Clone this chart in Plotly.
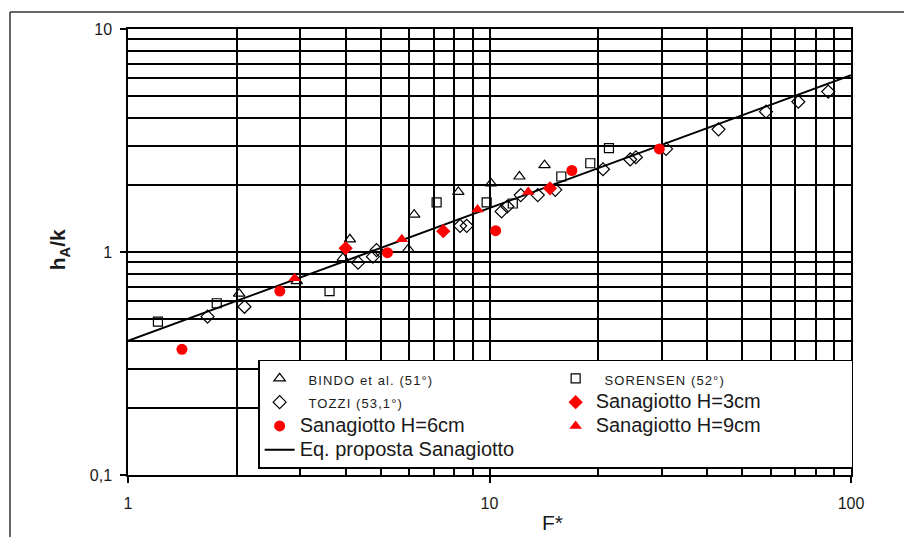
import plotly.graph_objects as go

# --- data -------------------------------------------------------------
bindo_x = [2.03, 2.93, 3.93, 4.11, 5.96, 6.19, 8.20, 10.1, 12.1, 14.2]
bindo_y = [0.65, 0.74, 0.94, 1.14, 1.03, 1.47, 1.86, 2.03, 2.18, 2.45]

sorensen_x = [1.21, 1.76, 3.61, 7.14, 9.82, 11.6, 15.8, 19.0, 21.4]
sorensen_y = [0.487, 0.589, 0.668, 1.67, 1.67, 1.65, 2.18, 2.50, 2.92]

tozzi_x = [1.66, 2.10, 4.33, 4.76, 4.87, 8.29, 8.65, 10.8, 11.2, 12.2,
           13.6, 15.2, 20.6, 24.5, 25.4, 30.8, 43.0, 58.2, 71.5, 86.5]
tozzi_y = [0.513, 0.568, 0.896, 0.953, 1.02, 1.31, 1.31, 1.52, 1.60, 1.80,
           1.80, 1.90, 2.35, 2.60, 2.66, 2.90, 3.55, 4.26, 4.72, 5.24]

h3_x = [4.0, 7.45, 14.7]
h3_y = [1.04, 1.24, 1.93]

h6_x = [1.41, 2.63, 5.22, 10.4, 16.9, 29.5]
h6_y = [0.366, 0.668, 0.993, 1.246, 2.32, 2.90]

h9_x = [2.89, 5.72, 9.27, 12.8]
h9_y = [0.762, 1.14, 1.55, 1.86]

eq_x = [1, 100]
eq_y = [0.40, 6.2]

x_tickvals = [1, 10, 100]
x_ticktext = ["1", "10", "100"]
y_tickvals = [0.1, 1, 10]
y_ticktext = ["0,1", "1", "10"]

FONT = "Liberation Sans, Arial, sans-serif"
SMALL = '<span style="font-size:13px;letter-spacing:1.1px">{}</span>'
BIG = '<span style="font-size:20px">{}</span>'

fig = go.Figure()

fig.add_trace(go.Scatter(
    x=eq_x, y=eq_y, mode="lines", name=BIG.format("Eq. proposta Sanagiotto"),
    line=dict(color="black", width=2), legendrank=7))

open_marker = dict(color="black", size=9, line=dict(color="black", width=1.2))
fig.add_trace(go.Scatter(
    x=bindo_x, y=bindo_y, mode="markers", name="  " + SMALL.format("BINDO et al. (51°)"),
    marker=dict(open_marker, symbol="triangle-up-open", size=10), legendrank=1))
fig.add_trace(go.Scatter(
    x=sorensen_x, y=sorensen_y, mode="markers", name="  " + SMALL.format("SORENSEN (52°)"),
    marker=dict(open_marker, symbol="square-open", size=9), legendrank=2))
fig.add_trace(go.Scatter(
    x=tozzi_x, y=tozzi_y, mode="markers", name="  " + SMALL.format("TOZZI (53,1°)"),
    marker=dict(open_marker, symbol="diamond-open", size=10), legendrank=3))

fig.add_trace(go.Scatter(
    x=h3_x, y=h3_y, mode="markers", name=BIG.format("Sanagiotto H=3cm"),
    marker=dict(color="#ff0000", symbol="diamond", size=11), legendrank=4))
fig.add_trace(go.Scatter(
    x=h6_x, y=h6_y, mode="markers", name=BIG.format("Sanagiotto H=6cm"),
    marker=dict(color="#ff0000", symbol="circle", size=11), legendrank=5))
fig.add_trace(go.Scatter(
    x=h9_x, y=h9_y, mode="markers", name=BIG.format("Sanagiotto H=9cm"),
    marker=dict(color="#ff0000", symbol="triangle-up", size=11), legendrank=6))

axis_common = dict(
    type="log",
    showgrid=True, gridcolor="black", gridwidth=1.5,
    showline=True, linecolor="black", linewidth=1.5, mirror=True,
    ticks="outside", ticklen=6, tickwidth=1.5, tickcolor="black",
    tickfont=dict(family=FONT, size=16, color="#1a1a1a"),
    minor=dict(dtick="D1", showgrid=True, gridcolor="black", gridwidth=1.5, ticks=""),
    zeroline=False,
)

fig.update_xaxes(axis_common, range=[0, 2], tickvals=x_tickvals, ticktext=x_ticktext,
                 ticklabelstandoff=7)
fig.update_yaxes(axis_common, range=[-1, 1], tickvals=y_tickvals, ticktext=y_ticktext,
                 ticklabelstandoff=5)

fig.update_layout(
    width=904, height=537,
    margin=dict(l=128, r=53, t=29, b=62),
    paper_bgcolor="white", plot_bgcolor="white",
    font=dict(family=FONT, color="#1a1a1a"),
    showlegend=True,
    legend=dict(
        orientation="h", traceorder="normal",
        entrywidth=251, entrywidthmode="pixels",
        x=0.18, y=0.258, xanchor="left", yanchor="top",
        bgcolor="white", bordercolor="black", borderwidth=1.5,
        font=dict(family=FONT, size=16, color="#1a1a1a"),
    ),
    annotations=[
        dict(text="<b>h<sub>A</sub>/k</b>", textangle=-90, showarrow=False,
             xref="paper", yref="paper", x=-0.095, y=0.5045,
             xanchor="center", yanchor="middle",
             font=dict(family=FONT, size=21, color="#1a1a1a")),
        dict(text="F*", showarrow=False, xref="paper", yref="paper",
             x=0.5865, y=-0.1054, xanchor="center", yanchor="middle",
             font=dict(family=FONT, size=21, color="#1a1a1a")),
    ],
    shapes=[
        dict(type="line", xref="paper", yref="paper", x0=-0.1632, x1=1.1, y0=1.0381, y1=1.0381,
             line=dict(color="#333333", width=1.5)),
        dict(type="line", xref="paper", yref="paper", x0=-0.1632, x1=-0.1632, y0=1.0381, y1=-0.2,
             line=dict(color="#333333", width=1.5)),
    ],
)

fig.write_html("out.html")
